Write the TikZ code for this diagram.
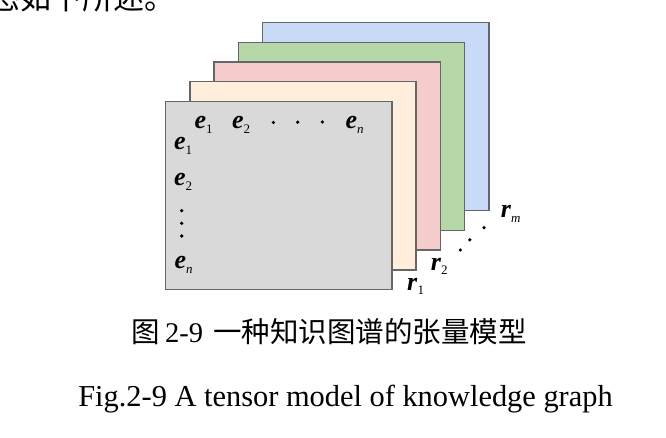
\documentclass[tikz,border=0pt]{standalone}
\usepackage{fontspec}
\setmainfont{Liberation Serif}
\newfontfamily\cjk{Noto Sans CJK SC}
\definecolor{cgray}{HTML}{D9D9D9}
\definecolor{cpeach}{HTML}{FFEEDB}
\definecolor{cpink}{HTML}{F4CCCC}
\definecolor{cgreen}{HTML}{B6D7A8}
\definecolor{cblue}{HTML}{C9DAF8}
\definecolor{cedge}{HTML}{666666}
\newcommand\ent[1]{\textbf{\textit{e}}\raisebox{-0.4ex}{\fontsize{13}{13}\selectfont #1}}
\newcommand\rel[1]{\textbf{\textit{r}}\raisebox{-0.4ex}{\fontsize{13}{13}\selectfont #1}}
\tikzset{
  slab/.style={draw=cedge, line width=1.4pt},
  lab/.style={inner sep=0pt, anchor=base west, font=\fontsize{26}{26}\selectfont},
  dotmark/.style={circle, fill=black, inner sep=0pt, minimum size=3.6pt},
}
\begin{document}
\begin{tikzpicture}[x=1pt,y=-1pt]
\useasboundingbox (0,0) rectangle (666,438);
\begin{scope}
\clip (0,0) rectangle (666,438);
\node[inner sep=0pt, anchor=base west, font=\cjk\fontsize{31}{31}\selectfont] (body) at (-11,10) {态如下所述。};
\end{scope}
% slabs, back to front
\path[slab, fill=cblue]  (262.7,22.7) rectangle ++(226.3,188.0);
\path[slab, fill=cgreen] (238.4,42.4) rectangle ++(226.3,188.0);
\path[slab, fill=cpink]  (214.1,62.1) rectangle ++(226.3,188.0);
\path[slab, fill=cpeach] (189.8,81.8) rectangle ++(226.3,188.0);
\path[slab, fill=cgray]  (165.5,101.5) rectangle ++(226.3,188.0);
% entity labels
\node[lab] (c1) at (194.5,128.3) {\ent{1}};
\node[lab] (c2) at (232,128.3) {\ent{2}};
\node[lab] (cn) at (345.5,128.3) {\ent{\textit{n}}};
\node[dotmark] (hd1) at (273.3,122.5) {};
\node[dotmark] (hd2) at (297.7,122.2) {};
\node[dotmark] (hd3) at (322.3,122.0) {};
\node[lab] (r1) at (174,150) {\ent{1}};
\node[lab] (r2) at (174,185.5) {\ent{2}};
\node[dotmark] (vd1) at (181.7,210.7) {};
\node[dotmark] (vd2) at (181.7,223.3) {};
\node[dotmark] (vd3) at (181.7,236.0) {};
\node[lab] (rn) at (174.5,269) {\ent{\textit{n}}};
% relation labels
\node[lab] (l1) at (407,290) {\rel{1}};
\node[lab] (l2) at (430.7,270) {\rel{2}};
\node[dotmark] (dd1) at (460.3,250.0) {};
\node[dotmark] (dd2) at (469.8,239.8) {};
\node[dotmark] (dd3) at (484.0,227.7) {};
\node[lab] (lm) at (500.7,218) {\rel{\textit{m}}};
% captions
\node[inner sep=0pt, anchor=base west, font=\fontsize{28.5}{28.5}\selectfont] (capzh) at (131.7,342) {{\cjk 图}\,2-9\hspace{0.35em}{\cjk 一种知识图谱的张量模型}};
\node[inner sep=0pt, anchor=base, font=\fontsize{30.4}{30.4}\selectfont] (capen) at (345.5,406) {Fig.2-9 A tensor model of knowledge graph};
\end{tikzpicture}
\end{document}
